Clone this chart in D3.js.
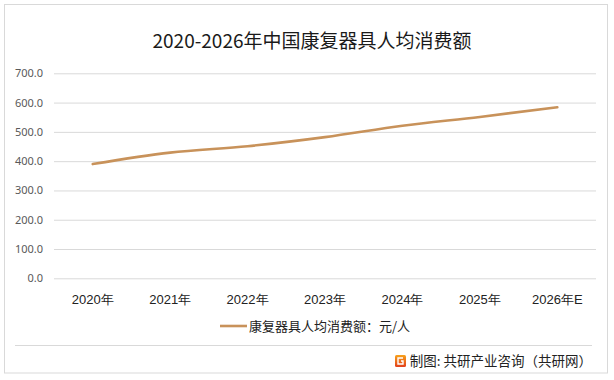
<!DOCTYPE html>
<html><head><meta charset="utf-8">
<script src="https://cdn.jsdelivr.net/npm/d3@7/dist/d3.min.js"></script>
<style>body{margin:0;background:#fff;}svg{display:block;font-family:"Noto Sans CJK SC","Noto Sans",sans-serif;}</style>
</head><body>
<svg id="c" width="614" height="380"></svg>
<script>
const categories = ["2020年","2021年","2022年","2023年","2024年","2025年","2026年E"];
const values = [390, 429, 451, 482, 521, 551, 584];
const yTicks = [0,100,200,300,400,500,600,700];
const title = "2020-2026年中国康复器具人均消费额";
const legendLabel = "康复器具人均消费额：元/人";
const source = "制图: 共研产业咨询（共研网）";

const svg = d3.select("#c");
svg.append("rect").attr("x",4.5).attr("y",4.5).attr("width",603).attr("height",368.5)
  .attr("fill","#fff").attr("stroke","#d9d9d9").attr("stroke-width",1);

const x = d3.scaleBand().domain(categories).range([54,596]);
const y = d3.scaleLinear().domain([0,700]).range([278.3,73.3]);

svg.append("text").attr("x",312).attr("y",48).attr("text-anchor","middle")
  .attr("font-size",19).attr("fill","#1a1a1a").text(title);

const yAxis = d3.axisLeft(y).tickValues(yTicks).tickSize(-(596-54)).tickFormat(d3.format(".1f"));
const gy = svg.append("g").attr("transform","translate(54,0)").call(yAxis);
gy.select(".domain").remove();
gy.selectAll(".tick line").attr("stroke","#d9d9d9").attr("stroke-width",1);
gy.selectAll(".tick text").attr("x",-11).attr("font-size",11).attr("fill","#595959").attr("font-family","'Noto Sans','Noto Sans CJK SC',sans-serif");

const xAxis = d3.axisBottom(x).tickSize(0);
const gx = svg.append("g").attr("transform","translate(0,278.3)").call(xAxis);
gx.select(".domain").remove();
gx.selectAll(".tick text").attr("dy",0).attr("y",26).attr("font-size",13).attr("fill","#222");

const line = d3.line().x((d,i)=>x(categories[i])+x.bandwidth()/2).y(d=>y(d)).curve(d3.curveMonotoneX);
svg.append("path").datum(values).attr("d",line).attr("fill","none")
  .attr("stroke","#C8925A").attr("stroke-width",2.6).attr("stroke-linecap","round");

// legend
svg.append("line").attr("x1",220).attr("x2",247).attr("y1",326).attr("y2",326)
  .attr("stroke","#C8925A").attr("stroke-width",2.6);
svg.append("text").attr("x",249).attr("y",331).attr("font-size",13).attr("fill","#222").text(legendLabel);

// footer
svg.append("line").attr("x1",15).attr("x2",592).attr("y1",345.5).attr("y2",345.5).attr("stroke","#d9d9d9");
const defs = svg.append("defs");
const gr = defs.append("linearGradient").attr("id","ig").attr("x1",0).attr("y1",0).attr("x2",0).attr("y2",1);
gr.append("stop").attr("offset","0").attr("stop-color","#f7a21b");
gr.append("stop").attr("offset","1").attr("stop-color","#e2401c");
svg.append("rect").attr("x",395).attr("y",355).attr("width",11).attr("height",12).attr("rx",1.5).attr("fill","url(#ig)");
svg.append("path").attr("d","M403,358 L398,358 L398,364 L403,364 L403,361 L401,361").attr("fill","none").attr("stroke","#fff").attr("stroke-width",1.4);
svg.append("text").attr("x",592).attr("y",366).attr("text-anchor","end").attr("font-size",13.5).attr("fill","#222").text(source);
</script>
</body></html>
